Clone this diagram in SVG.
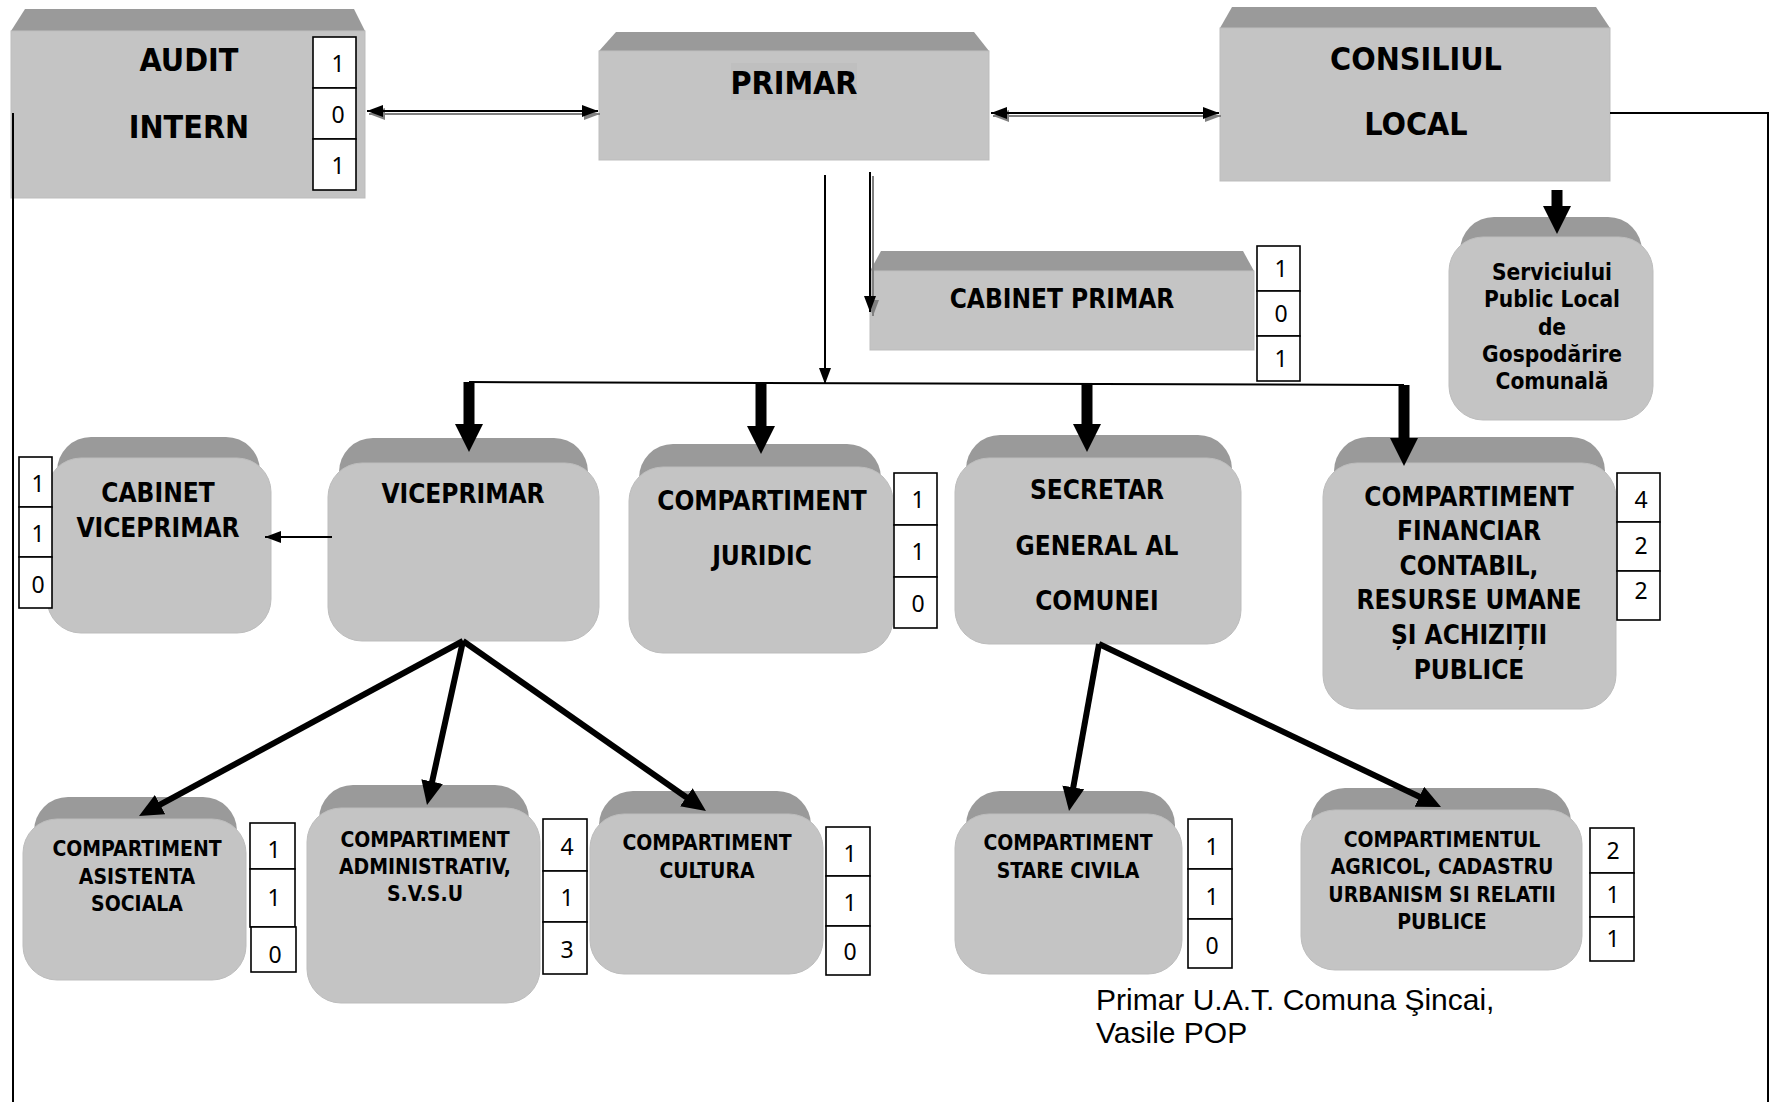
<svg xmlns="http://www.w3.org/2000/svg" width="1772" height="1102" viewBox="0 0 1772 1102">
<style>
.front{fill:#c4c4c4;stroke:#bdbdbd;stroke-width:1}
.top{fill:#9a9a9a}
.cnt{fill:#fff;stroke:#000;stroke-width:1.6}
.num{font-family:"Noto Sans","Open Sans",sans-serif;font-size:23px;fill:#000;text-anchor:middle}
.lbl{font-family:"DejaVu Sans Condensed","DejaVu Sans",sans-serif;font-stretch:condensed;font-weight:bold;fill:#000;text-anchor:middle}
.big{font-size:32px}
.mid{font-size:26px}
.sm{font-size:21px}
.srv{font-size:22.5px}
.thin{stroke:#000;stroke-width:2;fill:none}
.shd{stroke:#808080;stroke-width:2;fill:none}
.thick{stroke:#000;stroke-width:11;fill:none}
.diag{stroke:#000;stroke-width:6;fill:none}
.sig{font-family:"Liberation Sans",Arial,sans-serif;font-size:30px;fill:#000}
</style>
<defs>
<marker id="ah" viewBox="0 0 16 12" refX="16" refY="6" markerWidth="16" markerHeight="12" markerUnits="userSpaceOnUse" orient="auto-start-reverse"><path d="M0,0 L16,6 L0,12 z" fill="#000"/></marker>
<marker id="ahs" viewBox="0 0 16 12" refX="16" refY="6" markerWidth="16" markerHeight="12" markerUnits="userSpaceOnUse" orient="auto-start-reverse"><path d="M0,0 L16,6 L0,12 z" fill="#808080"/></marker>
<marker id="ak" viewBox="0 0 28 28" refX="8" refY="14" markerWidth="28" markerHeight="28" markerUnits="userSpaceOnUse" orient="auto"><path d="M0,0 L28,14 L0,28 z" fill="#000"/></marker>
<marker id="ad" viewBox="0 0 24 22" refX="10" refY="11" markerWidth="24" markerHeight="22" markerUnits="userSpaceOnUse" orient="auto"><path d="M0,0 L24,11 L0,22 z" fill="#000"/></marker>
</defs>
<rect width="1772" height="1102" fill="#fff"/>

<g id="audit-intern">
<polygon class="top" points="25,9 354,9 365,31 11,31"/>
<rect class="front" x="11" y="31" width="354" height="167"/>
<text class="lbl big" x="189" y="71">AUDIT</text>
<text class="lbl big" x="189" y="138">INTERN</text>
<rect class="cnt" x="313" y="37" width="43" height="51"/>
<rect class="cnt" x="313" y="88" width="43" height="51"/>
<rect class="cnt" x="313" y="139" width="43" height="51"/>
<text class="num" x="338" y="72">1</text>
<text class="num" x="338" y="123">0</text>
<text class="num" x="338" y="174">1</text>
</g>

<g id="primar">
<polygon class="top" points="616,32 974,32 989,51 599,51"/>
<rect class="front" x="599" y="51" width="390" height="109"/>
<rect x="731" y="63" width="126" height="37" fill="#bfbfbf"/>
<text class="lbl big" x="794" y="94">PRIMAR</text>
</g>

<g id="consiliul-local">
<polygon class="top" points="1232,7 1596,7 1610,28 1220,28"/>
<rect class="front" x="1220" y="28" width="390" height="153"/>
<text class="lbl big" x="1416" y="70">CONSILIUL</text>
<text class="lbl big" x="1416" y="135">LOCAL</text>
</g>

<g id="cabinet-primar">
<polygon class="top" points="881,251 1243,251 1254,271 870,271"/>
<rect class="front" x="870" y="271" width="384" height="79"/>
<text class="lbl" x="1062" y="308" style="font-size:26px">CABINET PRIMAR</text>
<rect class="cnt" x="1257" y="246" width="43" height="45"/>
<rect class="cnt" x="1257" y="291" width="43" height="45"/>
<rect class="cnt" x="1257" y="336" width="43" height="45"/>
<text class="num" x="1281" y="277">1</text>
<text class="num" x="1281" y="322">0</text>
<text class="num" x="1281" y="367">1</text>
</g>

<g id="serviciul-public">
<rect class="top" x="1460" y="217" width="182" height="80" rx="34"/>
<rect class="front" x="1449" y="237" width="204" height="183" rx="34"/>
<text class="lbl srv" x="1552" y="280">Serviciului</text>
<text class="lbl srv" x="1552" y="307">Public Local</text>
<text class="lbl srv" x="1552" y="335">de</text>
<text class="lbl srv" x="1552" y="362">Gospodărire</text>
<text class="lbl srv" x="1552" y="389">Comunală</text>
</g>

<g id="cabinet-viceprimar">
<rect class="top" x="57" y="437" width="203" height="80" rx="34"/>
<rect class="front" x="47" y="458" width="224" height="175" rx="34"/>
<text class="lbl mid" x="158" y="502">CABINET</text>
<text class="lbl mid" x="158" y="537">VICEPRIMAR</text>
<rect class="cnt" x="19" y="457" width="33" height="50"/>
<rect class="cnt" x="19" y="507" width="33" height="50"/>
<rect class="cnt" x="19" y="557" width="33" height="51"/>
<text class="num" x="38" y="492">1</text>
<text class="num" x="38" y="542">1</text>
<text class="num" x="38" y="593">0</text>
</g>

<g id="viceprimar">
<rect class="top" x="339" y="438" width="249" height="80" rx="34"/>
<rect class="front" x="328" y="463" width="271" height="178" rx="34"/>
<text class="lbl mid" x="463" y="503">VICEPRIMAR</text>
</g>

<g id="compartiment-juridic">
<rect class="top" x="639" y="444" width="242" height="80" rx="34"/>
<rect class="front" x="629" y="467" width="264" height="186" rx="34"/>
<text class="lbl mid" x="762" y="510">COMPARTIMENT</text>
<text class="lbl mid" x="762" y="565">JURIDIC</text>
<rect class="cnt" x="894" y="473" width="43" height="52"/>
<rect class="cnt" x="894" y="525" width="43" height="52"/>
<rect class="cnt" x="894" y="577" width="43" height="51"/>
<text class="num" x="918" y="508">1</text>
<text class="num" x="918" y="560">1</text>
<text class="num" x="918" y="612">0</text>
</g>

<g id="secretar-general">
<rect class="top" x="966" y="435" width="266" height="80" rx="34"/>
<rect class="front" x="955" y="458" width="286" height="186" rx="34"/>
<text class="lbl mid" x="1097" y="499">SECRETAR</text>
<text class="lbl mid" x="1097" y="555">GENERAL AL</text>
<text class="lbl mid" x="1097" y="610">COMUNEI</text>
</g>

<g id="compartiment-financiar">
<rect class="top" x="1334" y="437" width="271" height="80" rx="34"/>
<rect class="front" x="1323" y="463" width="293" height="246" rx="34"/>
<text class="lbl mid" x="1469" y="506">COMPARTIMENT</text>
<text class="lbl mid" x="1469" y="540">FINANCIAR</text>
<text class="lbl mid" x="1469" y="575">CONTABIL,</text>
<text class="lbl mid" x="1469" y="609">RESURSE UMANE</text>
<text class="lbl mid" x="1469" y="644">ȘI ACHIZIȚII</text>
<text class="lbl mid" x="1469" y="679">PUBLICE</text>
<rect class="cnt" x="1617" y="473" width="43" height="49"/>
<rect class="cnt" x="1617" y="522" width="43" height="49"/>
<rect class="cnt" x="1617" y="571" width="43" height="49"/>
<text class="num" x="1641" y="508">4</text>
<text class="num" x="1641" y="554">2</text>
<text class="num" x="1641" y="599">2</text>
</g>

<g id="compartiment-asistenta">
<rect class="top" x="34" y="797" width="203" height="80" rx="34"/>
<rect class="front" x="23" y="819" width="223" height="161" rx="34"/>
<text class="lbl sm" x="137" y="856">COMPARTIMENT</text>
<text class="lbl sm" x="137" y="884">ASISTENTA</text>
<text class="lbl sm" x="137" y="911">SOCIALA</text>
<rect class="cnt" x="250" y="823" width="45" height="46"/>
<rect class="cnt" x="250" y="869" width="45" height="58"/>
<rect class="cnt" x="251" y="927" width="45" height="45"/>
<text class="num" x="274" y="858">1</text>
<text class="num" x="274" y="906">1</text>
<text class="num" x="275" y="963">0</text>
</g>

<g id="compartiment-administrativ">
<rect class="top" x="319" y="785" width="210" height="80" rx="34"/>
<rect class="front" x="307" y="808" width="233" height="195" rx="34"/>
<text class="lbl sm" x="425" y="847">COMPARTIMENT</text>
<text class="lbl sm" x="425" y="874">ADMINISTRATIV,</text>
<text class="lbl sm" x="425" y="901">S.V.S.U</text>
<rect class="cnt" x="543" y="819" width="44" height="52"/>
<rect class="cnt" x="543" y="871" width="44" height="51"/>
<rect class="cnt" x="543" y="922" width="44" height="52"/>
<text class="num" x="567" y="855">4</text>
<text class="num" x="567" y="906">1</text>
<text class="num" x="567" y="958">3</text>
</g>

<g id="compartiment-cultura">
<rect class="top" x="599" y="791" width="212" height="80" rx="34"/>
<rect class="front" x="590" y="814" width="233" height="160" rx="34"/>
<text class="lbl sm" x="707" y="850">COMPARTIMENT</text>
<text class="lbl sm" x="707" y="878">CULTURA</text>
<rect class="cnt" x="826" y="827" width="44" height="49"/>
<rect class="cnt" x="826" y="876" width="44" height="50"/>
<rect class="cnt" x="826" y="926" width="44" height="49"/>
<text class="num" x="850" y="862">1</text>
<text class="num" x="850" y="911">1</text>
<text class="num" x="850" y="960">0</text>
</g>

<g id="compartiment-stare-civila">
<rect class="top" x="966" y="791" width="209" height="80" rx="34"/>
<rect class="front" x="955" y="814" width="227" height="160" rx="34"/>
<text class="lbl sm" x="1068" y="850">COMPARTIMENT</text>
<text class="lbl sm" x="1068" y="878">STARE CIVILA</text>
<rect class="cnt" x="1188" y="819" width="44" height="50"/>
<rect class="cnt" x="1188" y="869" width="44" height="50"/>
<rect class="cnt" x="1188" y="919" width="44" height="49"/>
<text class="num" x="1212" y="855">1</text>
<text class="num" x="1212" y="905">1</text>
<text class="num" x="1212" y="954">0</text>
</g>

<g id="compartimentul-agricol">
<rect class="top" x="1311" y="788" width="260" height="80" rx="34"/>
<rect class="front" x="1301" y="810" width="281" height="160" rx="34"/>
<text class="lbl sm" x="1442" y="847">COMPARTIMENTUL</text>
<text class="lbl sm" x="1442" y="874">AGRICOL, CADASTRU</text>
<text class="lbl sm" x="1442" y="902">URBANISM SI RELATII</text>
<text class="lbl sm" x="1442" y="929">PUBLICE</text>
<rect class="cnt" x="1590" y="828" width="44" height="45"/>
<rect class="cnt" x="1590" y="873" width="44" height="44"/>
<rect class="cnt" x="1590" y="917" width="44" height="44"/>
<text class="num" x="1613" y="859">2</text>
<text class="num" x="1613" y="903">1</text>
<text class="num" x="1613" y="947">1</text>
</g>

<g id="connectors">
<line class="shd" x1="369" y1="114" x2="600" y2="114" marker-start="url(#ahs)" marker-end="url(#ahs)"/>
<line class="thin" x1="367" y1="111" x2="598" y2="111" marker-start="url(#ah)" marker-end="url(#ah)"/>
<line class="shd" x1="993" y1="116" x2="1221" y2="116" marker-start="url(#ahs)" marker-end="url(#ahs)"/>
<line class="thin" x1="991" y1="113" x2="1219" y2="113" marker-start="url(#ah)" marker-end="url(#ah)"/>
<line class="thin" x1="825" y1="175" x2="825" y2="384" marker-end="url(#ah)"/>
<line class="shd" x1="873" y1="176" x2="873" y2="316" marker-end="url(#ahs)"/>
<line class="thin" x1="870" y1="172" x2="870" y2="312" marker-end="url(#ah)"/>
<line class="thin" x1="469" y1="382" x2="1404" y2="385"/>
<line class="thick" x1="469" y1="382" x2="469" y2="432" marker-end="url(#ak)"/>
<line class="thick" x1="761" y1="383" x2="761" y2="434" marker-end="url(#ak)"/>
<line class="thick" x1="1087" y1="384" x2="1087" y2="432" marker-end="url(#ak)"/>
<line class="thick" x1="1404" y1="385" x2="1404" y2="446" marker-end="url(#ak)"/>
<line class="thick" x1="1557" y1="190" x2="1557" y2="214" marker-end="url(#ak)"/>
<line class="thin" x1="332" y1="537" x2="265" y2="537" marker-end="url(#ah)"/>
<line class="diag" x1="463" y1="641" x2="151.3" y2="809.4" marker-end="url(#ad)"/>
<line class="diag" x1="463" y1="641" x2="430" y2="791.3" marker-end="url(#ad)"/>
<line class="diag" x1="463" y1="641" x2="694.5" y2="803" marker-end="url(#ad)"/>
<line class="diag" x1="1099" y1="644" x2="1071.5" y2="797.2" marker-end="url(#ad)"/>
<line class="diag" x1="1099" y1="644" x2="1428.4" y2="801" marker-end="url(#ad)"/>
<polyline class="thin" points="13,113 13,1102"/>
<polyline class="thin" points="1610,113 1768,113 1768,1102"/>
</g>

<g id="signature">
<text class="sig" x="1096" y="1010">Primar U.A.T. Comuna Şincai,</text>
<text class="sig" x="1096" y="1043">Vasile POP</text>
</g>
</svg>
